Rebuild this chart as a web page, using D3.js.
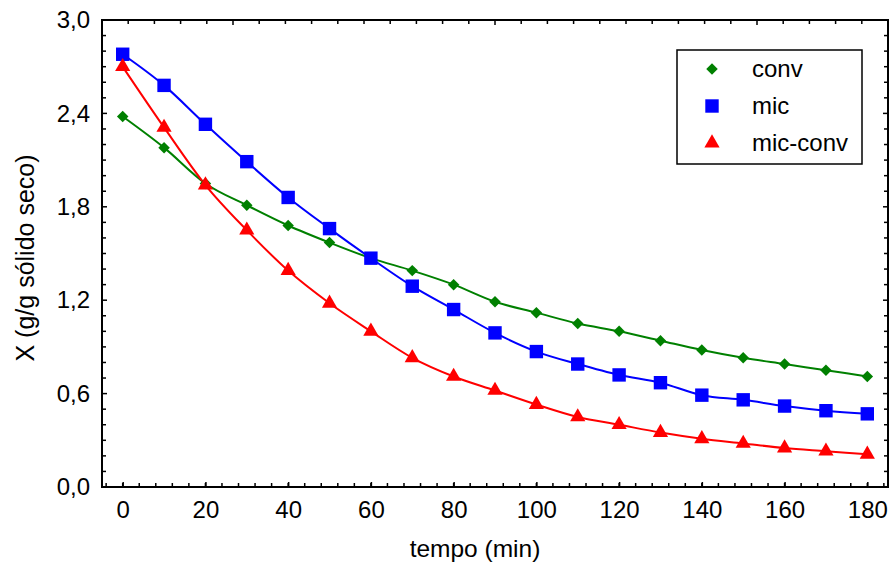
<!DOCTYPE html>
<html>
<head>
<meta charset="utf-8">
<script src="https://cdn.jsdelivr.net/npm/d3@7"></script>
<style>
  body { margin: 0; background: #fff; }
  text { font-family: "Liberation Sans", Arial, sans-serif; fill: #000; }
</style>
</head>
<body>
<div id="chart"></div>
<script>
// drying curves: moisture X vs time
const tempo = [0, 10, 20, 30, 40, 50, 60, 70, 80, 90, 100, 110, 120, 130, 140, 150, 160, 170, 180];
const conv = [2.38, 2.18, 1.95, 1.81, 1.68, 1.57, 1.47, 1.39, 1.30, 1.19, 1.12, 1.05, 1.00, 0.94, 0.88, 0.83, 0.79, 0.75, 0.71];
const mic = [2.78, 2.58, 2.33, 2.09, 1.86, 1.66, 1.47, 1.29, 1.14, 0.99, 0.87, 0.79, 0.72, 0.67, 0.59, 0.56, 0.52, 0.49, 0.47];
const micConv = [2.70, 2.31, 1.94, 1.65, 1.39, 1.18, 1.00, 0.83, 0.71, 0.62, 0.53, 0.45, 0.40, 0.35, 0.31, 0.28, 0.25, 0.23, 0.21];

const seriesNames = ["conv", "mic", "mic-conv"];
const seriesColors = ["#008000", "#0000ff", "#ff0000"];
const seriesValues = [conv, mic, micConv];

const xTicks = [0, 20, 40, 60, 80, 100, 120, 140, 160, 180];
const yTicks = [0, 0.6, 1.2, 1.8, 2.4, 3.0];

const width = 893, height = 567;
const plotLeft = 102, plotRight = 888, plotTop = 20, plotBottom = 487;

const svg = d3.select("#chart").append("svg")
    .attr("width", width)
    .attr("height", height);

const x = d3.scaleLinear().domain([-5, 185]).range([plotLeft, plotRight]);
const y = d3.scaleLinear().domain([0, 3]).range([plotBottom, plotTop]);
// top frame carries its own unlabeled scale
const xTop = d3.scaleLinear().domain([0, 30]).range([plotLeft, plotRight]);

const fmt = d => d3.format(".1f")(d).replace(".", ",");

// marker shapes: diamond = square turned 45deg
const markers = [
    { path: d3.symbol(d3.symbolSquare, 66)(), rot: 45 },
    { path: d3.symbol(d3.symbolSquare, 180)(), rot: 0 },
    { path: d3.symbol(d3.symbolTriangle, 100)(), rot: 0 }
];

// minor ticks (inside the frame)
const g = svg.append("g");
d3.range(-4, 186, 4).forEach(v => {
    g.append("line").attr("x1", x(v)).attr("x2", x(v)).attr("y1", plotBottom).attr("y2", plotBottom - 4)
        .attr("stroke", "#000").attr("stroke-width", 1.5);
});
d3.range(0, 31, 1).forEach(v => {
    const major = v % 10 === 5;
    g.append("line").attr("x1", xTop(v)).attr("x2", xTop(v))
        .attr("y1", plotTop - (major ? 1 : 0)).attr("y2", plotTop + (major ? 5 : 4))
        .attr("stroke", "#000").attr("stroke-width", 1.5);
});
d3.range(0, 31, 1).forEach(i => {
    const v = i / 10;
    const major = i % 6 === 0;
    g.append("line").attr("x1", plotLeft - (major ? 1 : 0)).attr("x2", plotLeft + (major ? 5 : 4))
        .attr("y1", y(v)).attr("y2", y(v)).attr("stroke", "#000").attr("stroke-width", 1.5);
    g.append("line").attr("x1", plotRight + (major ? 1 : 0)).attr("x2", plotRight - (major ? 5 : 4))
        .attr("y1", y(v)).attr("y2", y(v)).attr("stroke", "#000").attr("stroke-width", 1.5);
});

// labeled axes
const xAxis = svg.append("g")
    .attr("transform", `translate(0,${plotBottom})`)
    .call(d3.axisBottom(x).tickValues(xTicks).tickSizeInner(-6).tickSizeOuter(0).tickPadding(14));
xAxis.select(".domain").remove();
xAxis.selectAll("line").attr("stroke-width", 1.5).attr("transform", "translate(0,1)");
xAxis.selectAll("text").style("font-size", "24px");

const yAxis = svg.append("g")
    .attr("transform", `translate(${plotLeft},0)`)
    .call(d3.axisLeft(y).tickValues(yTicks).tickFormat(fmt).tickSize(0).tickPadding(12));
yAxis.select(".domain").remove();
yAxis.selectAll("text").style("font-size", "24px");

// frame
svg.append("rect")
    .attr("x", plotLeft).attr("y", plotTop)
    .attr("width", plotRight - plotLeft).attr("height", plotBottom - plotTop)
    .attr("fill", "none").attr("stroke", "#000").attr("stroke-width", 2);

// lines and markers
const line = d3.line()
    .x((d, i) => x(tempo[i]))
    .y(d => y(d))
    .curve(d3.curveMonotoneX);

seriesValues.forEach((vals, s) => {
    svg.append("path")
        .datum(vals)
        .attr("d", line)
        .attr("fill", "none")
        .attr("stroke", seriesColors[s])
        .attr("stroke-width", 2);
});

seriesValues.forEach((vals, s) => {
    svg.append("g").selectAll("path")
        .data(vals)
        .join("path")
        .attr("d", markers[s].path)
        .attr("transform", (d, i) => `translate(${x(tempo[i])},${y(d)}) rotate(${markers[s].rot})`)
        .attr("fill", seriesColors[s]);
});

// legend
const legend = svg.append("g").attr("transform", "translate(677,50)");
legend.append("rect")
    .attr("width", 185).attr("height", 114)
    .attr("fill", "#fff").attr("stroke", "#000").attr("stroke-width", 1.5);
seriesNames.forEach((name, s) => {
    const row = legend.append("g").attr("transform", `translate(0,${19 + s * 37})`);
    row.append("path")
        .attr("d", markers[s].path)
        .attr("transform", `translate(35,0) rotate(${markers[s].rot})`)
        .attr("fill", seriesColors[s]);
    row.append("text")
        .attr("x", 75).attr("dy", "0.35em")
        .style("font-size", "24px")
        .text(name);
});

// axis titles
svg.append("text")
    .attr("x", 475).attr("y", 557)
    .attr("text-anchor", "middle")
    .style("font-size", "24.5px")
    .text("tempo (min)");

svg.append("text")
    .attr("transform", "translate(34,258) rotate(-90)")
    .attr("text-anchor", "middle")
    .style("font-size", "25px")
    .text("X (g/g sólido seco)");
</script>
</body>
</html>
